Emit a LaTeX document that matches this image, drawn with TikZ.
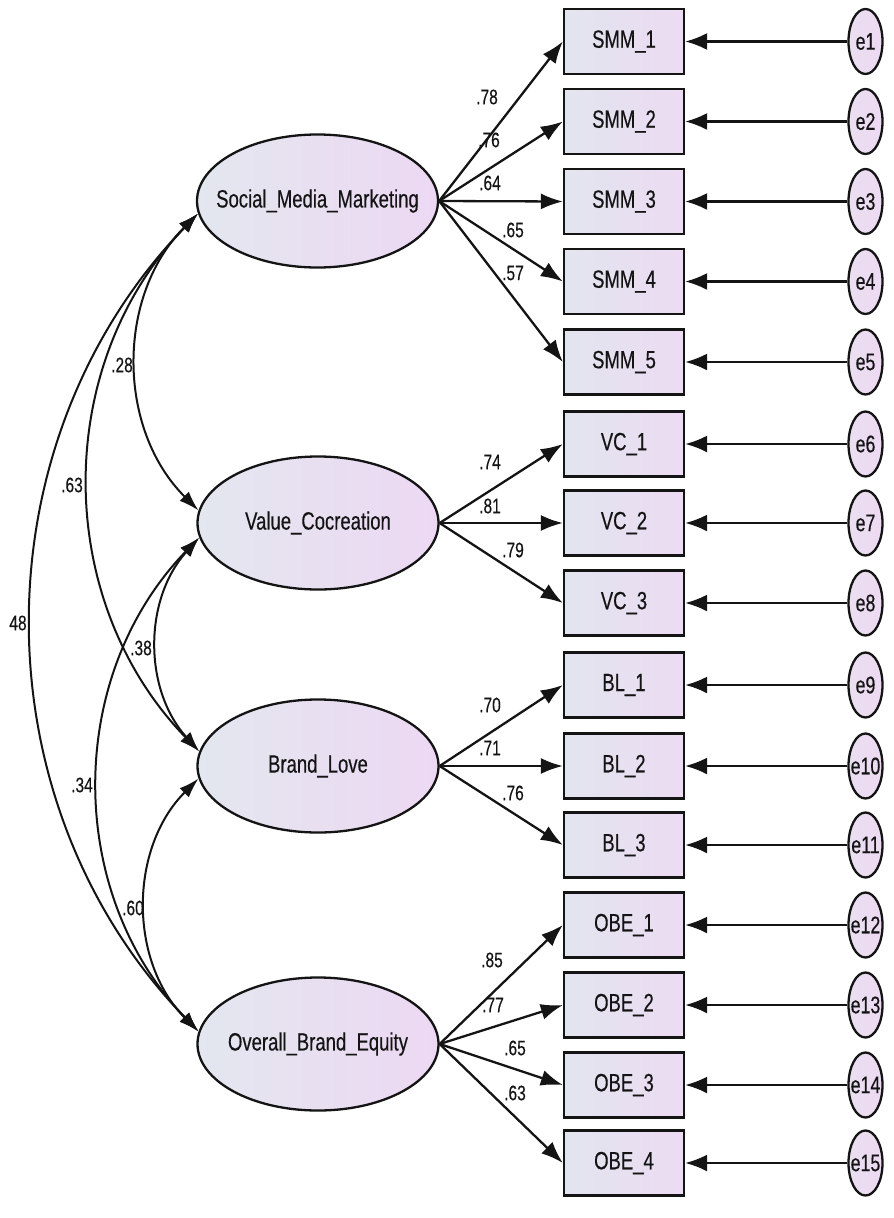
\documentclass[tikz,border=0pt]{standalone}
\usepackage{fontspec}
\setmainfont{Liberation Sans}[FakeStretch=0.74,FakeBold=0.35]
\usetikzlibrary{arrows.meta,shapes.geometric}
\definecolor{ink}{HTML}{141414}
\definecolor{latL}{HTML}{E3E7EF}
\definecolor{latR}{HTML}{EDD8F3}
\definecolor{boxL}{HTML}{E2E5EE}
\definecolor{boxR}{HTML}{ECDBF3}
\definecolor{errL}{HTML}{EADFF0}
\definecolor{errR}{HTML}{EED9F3}
\begin{document}
\begin{tikzpicture}[x=1pt,y=1pt,
  every node/.style={text=ink},
  lat/.style={ellipse, draw=ink, line width=2.3pt, minimum width=241pt, minimum height=133pt,
    left color=latL, right color=latR, inner sep=0pt},
  latlab/.style={font=\fontsize{25}{29}\selectfont, inner sep=0pt, text=ink},
  obs/.style={rectangle, draw=ink, line width=2.3pt, minimum width=120pt, minimum height=65pt,
    left color=boxL, right color=boxR, inner sep=0pt, font=\fontsize{25}{29}\selectfont},
  err/.style={ellipse, draw=ink, line width=2.3pt, minimum width=34pt, minimum height=65pt,
    left color=errL, right color=errR, inner sep=0pt},
  errlab/.style={font=\fontsize{24}{28}\selectfont, inner sep=0pt, text=ink},
  load/.style={draw=ink, line width=2.3pt, -{Latex[length=22pt,width=16pt]}},
  resid/.style={draw=ink, line width=2.3pt, -{Latex[length=22pt,width=17pt]}},
  cov/.style={draw=ink, line width=2pt, {Latex[length=20pt,width=13pt]}-{Latex[length=20pt,width=13pt]}},
  coef/.style={font=\fontsize{21}{24}\selectfont, inner sep=0pt, text=ink}
]
\useasboundingbox (0,0) rectangle (894,-1218);

% latent variables
\node[lat, label={[latlab]center:Social\_Media\_Marketing}] (smm) at (317.5,-201) {};
\node[lat, label={[latlab]center:Value\_Cocreation}] (vc) at (318,-523) {};
\node[lat, label={[latlab]center:Brand\_Love}] (bl) at (318,-766) {};
\node[lat, label={[latlab]center:Overall\_Brand\_Equity}] (obe) at (318,-1044) {};

% observed variables
\node[obs] (smm1) at (624,-41.5) {SMM\_1};
\node[obs] (smm2) at (624,-121.5) {SMM\_2};
\node[obs] (smm3) at (624,-201.5) {SMM\_3};
\node[obs] (smm4) at (624,-281.5) {SMM\_4};
\node[obs] (smm5) at (624,-362) {SMM\_5};
\node[obs] (vc1) at (624,-444) {VC\_1};
\node[obs] (vc2) at (624,-523) {VC\_2};
\node[obs] (vc3) at (624,-603) {VC\_3};
\node[obs] (bl1) at (624,-685) {BL\_1};
\node[obs] (bl2) at (624,-766) {BL\_2};
\node[obs] (bl3) at (624,-845) {BL\_3};
\node[obs] (obe1) at (624,-925) {OBE\_1};
\node[obs] (obe2) at (624,-1005) {OBE\_2};
\node[obs] (obe3) at (624,-1085) {OBE\_3};
\node[obs] (obe4) at (624,-1163) {OBE\_4};

% error terms
\foreach \i/\y/\b in {1/41.5/smm1,2/121.5/smm2,3/201.5/smm3,4/281.5/smm4,5/362/smm5,
  6/444/vc1,7/523/vc2,8/603/vc3,9/685/bl1,10/766/bl2,11/845/bl3,
  12/925/obe1,13/1005/obe2,14/1085/obe3,15/1163/obe4}{
  \node[err, label={[errlab]center:e\i}] (e\i) at (865.5,-\y) {};
  \draw[resid] (e\i.west) -- (\b.east);
}

% loadings
\draw[load] (smm.east) -- (smm1.west);
\draw[load] (smm.east) -- (smm2.west);
\draw[load] (smm.east) -- (smm3.west);
\draw[load] (smm.east) -- (smm4.west);
\draw[load] (smm.east) -- (smm5.west);
\draw[load] (vc.east) -- (vc1.west);
\draw[load] (vc.east) -- (vc2.west);
\draw[load] (vc.east) -- (vc3.west);
\draw[load] (bl.east) -- (bl1.west);
\draw[load] (bl.east) -- (bl2.west);
\draw[load] (bl.east) -- (bl3.west);
\draw[load] (obe.east) -- (obe1.west);
\draw[load] (obe.east) -- (obe2.west);
\draw[load] (obe.east) -- (obe3.west);
\draw[load] (obe.east) -- (obe4.west);

% loading coefficients
\node[coef] (c1) at (487,-97) {.78};
\node[coef] (c2) at (489,-140) {.76};
\node[coef] (c3) at (490,-183) {.64};
\node[coef] (c4) at (513,-230) {.65};
\node[coef] (c5) at (513,-273) {.57};
\node[coef] (c6) at (490,-462) {.74};
\node[coef] (c7) at (490,-506) {.81};
\node[coef] (c8) at (513,-550) {.79};
\node[coef] (c9) at (490,-705) {.70};
\node[coef] (c10) at (490,-748) {.71};
\node[coef] (c11) at (513,-793) {.76};
\node[coef] (c12) at (492,-960) {.85};
\node[coef] (c13) at (493,-1005) {.77};
\node[coef] (c14) at (515,-1048) {.65};
\node[coef] (c15) at (515,-1093) {.63};

% covariances
\draw[cov] (smm.186.6) to[bend right=45] (vc.174.8);
\draw[cov] (smm.186.6) to[bend right=44] (bl.173.9);
\draw[cov] (smm.186.6) to[bend right=44] (obe.174.3);
\draw[cov] (vc.187.1) to[bend right=42] (bl.173.9);
\draw[cov] (vc.187.1) to[bend right=44] (obe.174.3);
\draw[cov] (bl.186.6) to[bend right=45] (obe.174.3);

% covariance coefficients
\node[coef] (k1) at (122,-365) {.28};
\node[coef] (k2) at (72,-485) {.63};
\node[coef] (k3) at (18,-623) {48};
\node[coef] (k4) at (141,-648) {.38};
\node[coef] (k5) at (82,-785) {.34};
\node[coef] (k6) at (133,-908) {.60};
\end{tikzpicture}
\end{document}
